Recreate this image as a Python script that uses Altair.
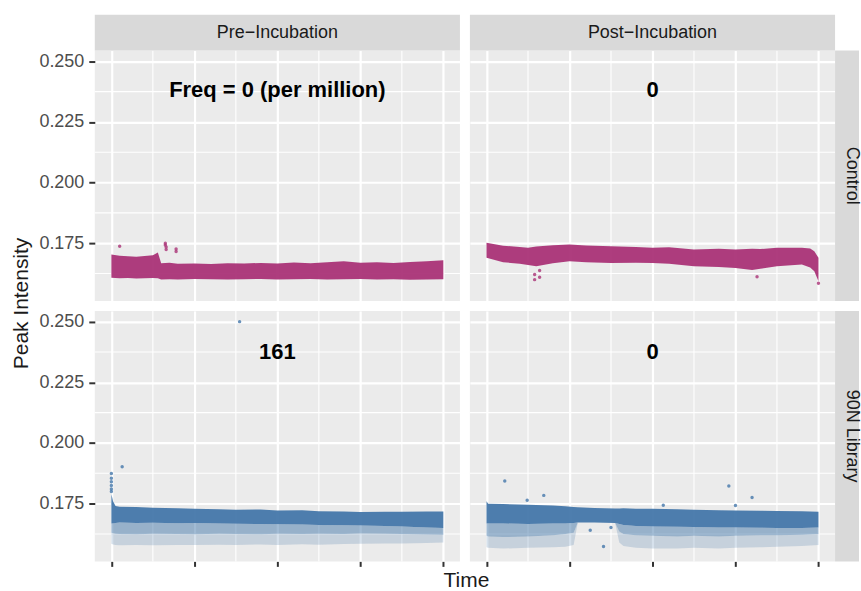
import altair as alt
import pandas as pd

FONT = "Liberation Sans"
MAGENTA = "#AA3377"
BLUE = "#4477AA"
GRID = "#FFFFFF"
PANEL_BG = "#EBEBEB"
STRIP_BG = "#D9D9D9"

ROW_LABELS = ["Control", "90N Library"]
COL_LABELS = ["Pre\u2212Incubation", "Post\u2212Incubation"]
ANNOT = [["Freq = 0 (per million)", "0"], ["161", "0"]]
ANNOT_T = [2.0, 2.0]
ANNOT_Y = [0.2380, 0.2375]

X_MAJOR = [0, 1, 2, 3, 4]
X_MINOR = [0.5, 1.5, 2.5, 3.5]
Y_MAJOR = [0.175, 0.200, 0.225, 0.250]
Y_MINOR = [0.1625, 0.1875, 0.2125, 0.2375]
X_DOMAIN = [-0.2, 4.2]
Y_DOMAIN = [0.1512, 0.2544]

# ---- Control, Pre-Incubation (dense band envelope + stray points)
CP_T = [0.0, 0.1, 0.2, 0.3, 0.4, 0.5, 0.56, 0.6, 0.7, 0.8, 1.0, 1.2, 1.4, 1.6, 1.8, 2.0,
        2.2, 2.4, 2.6, 2.8, 3.0, 3.2, 3.4, 3.6, 3.8, 4.0]
CP_HI = [0.1704, 0.1698, 0.1696, 0.1694, 0.1697, 0.1700, 0.1712, 0.1668, 0.1670, 0.1665,
         0.1667, 0.1664, 0.1668, 0.1666, 0.1669, 0.1667, 0.1671, 0.1668, 0.1672, 0.1676,
         0.1670, 0.1672, 0.1669, 0.1673, 0.1676, 0.1680]
CP_LO = [0.1608, 0.1606, 0.1607, 0.1605, 0.1606, 0.1607, 0.1606, 0.1601, 0.1602, 0.1601,
         0.1603, 0.1602, 0.1601, 0.1602, 0.1603, 0.1601, 0.1602, 0.1603, 0.1601, 0.1602,
         0.1603, 0.1601, 0.1602, 0.1600, 0.1601, 0.1602]
CP_OUT_T = [0.10, 0.65, 0.65, 0.66, 0.66, 0.78, 0.78]
CP_OUT_Y = [0.1738, 0.1750, 0.1743, 0.1735, 0.1724, 0.1726, 0.1716]

# ---- Control, Post-Incubation
PP_T = [0.0, 0.2, 0.4, 0.5, 0.6, 0.8, 1.0, 1.2, 1.5, 1.8, 2.0, 2.2, 2.5, 2.8, 3.0, 3.2,
        3.3, 3.5, 3.8, 3.9, 3.95, 4.0]
PP_HI = [0.1752, 0.1740, 0.1735, 0.1731, 0.1737, 0.1742, 0.1745, 0.1741, 0.1738, 0.1735,
         0.1731, 0.1733, 0.1724, 0.1727, 0.1724, 0.1727, 0.1726, 0.1731, 0.1731, 0.1728,
         0.1717, 0.1690]
PP_LO = [0.1690, 0.1672, 0.1665, 0.1660, 0.1655, 0.1668, 0.1676, 0.1672, 0.1669, 0.1670,
         0.1669, 0.1665, 0.1655, 0.1652, 0.1648, 0.1640, 0.1645, 0.1655, 0.1662, 0.1650,
         0.1635, 0.1593]
PP_OUT_T = [0.58, 0.64, 0.58, 0.64, 3.26, 4.0]
PP_OUT_Y = [0.1621, 0.1638, 0.1600, 0.1610, 0.1612, 0.1585]

# ---- 90N Library, Pre-Incubation (dense band, scattered zone, sparse floor)
NP_T = [0.0, 0.02, 0.05, 0.1, 0.3, 0.5, 0.8, 1.0, 1.3, 1.5, 1.8, 2.0, 2.3, 2.5, 2.8, 3.0,
        3.3, 3.5, 3.8, 4.0]
NP_HI = [0.1790, 0.1760, 0.1740, 0.1737, 0.1736, 0.1733, 0.1731, 0.1729, 0.1727, 0.1725,
         0.1726, 0.1722, 0.1723, 0.1719, 0.1718, 0.1716, 0.1717, 0.1717, 0.1718, 0.1718]
NP_LO = [0.1668, 0.1668, 0.1670, 0.1672, 0.1670, 0.1671, 0.1669, 0.1670, 0.1668, 0.1667,
         0.1666, 0.1665, 0.1664, 0.1662, 0.1661, 0.1660, 0.1658, 0.1656, 0.1652, 0.1650]
NP_MID = [0.1630, 0.1628, 0.1626, 0.1625, 0.1624, 0.1626, 0.1625, 0.1624, 0.1626, 0.1625,
          0.1624, 0.1626, 0.1625, 0.1626, 0.1625, 0.1627, 0.1626, 0.1625, 0.1623, 0.1622]
NP_BOT = [0.1585, 0.1582, 0.1580, 0.1578, 0.1580, 0.1578, 0.1580, 0.1579, 0.1581, 0.1580,
          0.1582, 0.1580, 0.1583, 0.1581, 0.1584, 0.1585, 0.1586, 0.1586, 0.1588, 0.1590]
NP_OUT_T = [0.0, 0.0, 0.0, 0.0, 0.0, 0.0, 0.13, 1.545]
NP_OUT_Y = [0.1874, 0.1855, 0.1840, 0.1825, 0.1810, 0.1800, 0.1902, 0.2500]

# ---- 90N Library, Post-Incubation
BP_T = [0.0, 0.02, 0.2, 0.5, 0.8, 0.95, 1.05, 1.1, 1.3, 1.55, 1.6, 1.65, 1.8, 2.0, 2.3,
        2.5, 2.8, 3.0, 3.3, 3.5, 3.8, 4.0]
BP_HI = [0.1760, 0.1750, 0.1748, 0.1745, 0.1742, 0.1739, 0.1736, 0.1735, 0.1732, 0.1730,
         0.1730, 0.1731, 0.1729, 0.1729, 0.1727, 0.1725, 0.1723, 0.1722, 0.1721, 0.1720,
         0.1719, 0.1717]
BP_LO = [0.1668, 0.1668, 0.1668, 0.1666, 0.1668, 0.1668, 0.1670, 0.1672, 0.1672, 0.1670,
         0.1666, 0.1662, 0.1658, 0.1656, 0.1655, 0.1654, 0.1652, 0.1652, 0.1651, 0.1650,
         0.1650, 0.1652]
BP_MID = [0.1618, 0.1615, 0.1612, 0.1615, 0.1620, 0.1625, 0.1630, 0.1672, 0.1672, 0.1670,
          0.1635, 0.1625, 0.1620, 0.1618, 0.1615, 0.1618, 0.1615, 0.1618, 0.1620, 0.1620,
          0.1622, 0.1625]
BP_BOT = [0.1570, 0.1568, 0.1565, 0.1568, 0.1570, 0.1572, 0.1580, 0.1672, 0.1672, 0.1670,
          0.1590, 0.1575, 0.1568, 0.1565, 0.1565, 0.1568, 0.1565, 0.1568, 0.1570, 0.1572,
          0.1575, 0.1580]
BP_OUT_T = [0.22, 0.49, 0.69, 2.13, 2.92, 3.0, 3.2, 1.41, 1.25, 1.5]
BP_OUT_Y = [0.1843, 0.1764, 0.1784, 0.1743, 0.1823, 0.1742, 0.1775, 0.1573, 0.1640, 0.1652]

W, H = 366, 251


def panel(r, c, t, hi, lo, mid, bot, out_t, out_y, color):
    xs = alt.Scale(domain=X_DOMAIN, nice=False, zero=False)
    ys = alt.Scale(domain=Y_DOMAIN, nice=False, zero=False)
    left = c == 0
    bottom = r == 1

    xaxis_kw = dict(values=X_MAJOR, grid=True, gridColor=GRID, gridWidth=2.2,
                    labels=False, domain=False, ticks=bottom, title="")
    if bottom:
        xaxis_kw.update(tickSize=5, tickWidth=2, tickColor="#333333")
    if bottom and left:
        xaxis_kw.update(title="Time", titleFont=FONT, titleFontSize=21,
                        titleFontWeight="normal", titleColor="#1A1A1A",
                        titleX=372, titleY=25, titleAlign="center",
                        titleBaseline="alphabetic")
    yaxis_kw = dict(values=Y_MAJOR, grid=True, gridColor=GRID, gridWidth=2.2,
                    labels=left, ticks=left, domain=False, title="")
    if left:
        yaxis_kw.update(format=".3f", labelFont=FONT, labelFontSize=18,
                        labelColor="#4D4D4D", labelPadding=5, tickSize=6,
                        tickWidth=2, tickColor="#333333")
    if left and r == 0:
        yaxis_kw.update(title="Peak Intensity", titleFont=FONT, titleFontSize=21,
                        titleFontWeight="normal", titleColor="#1A1A1A",
                        titleX=-67, titleY=253, titleAngle=270,
                        titleAlign="center", titleBaseline="alphabetic")

    def X(field):
        return alt.X(field, type="quantitative", scale=xs, axis=alt.Axis(**xaxis_kw))

    def Y(field):
        return alt.Y(field, type="quantitative", scale=ys, axis=alt.Axis(**yaxis_kw))

    df = pd.DataFrame({"t": t, "hi": hi, "lo": lo})
    layers = []
    # minor grid lines
    layers.append(alt.Chart(pd.DataFrame({"v": X_MINOR})).mark_rule(
        color=GRID, strokeWidth=1.1).encode(x=X("v")))
    layers.append(alt.Chart(pd.DataFrame({"v": Y_MINOR})).mark_rule(
        color=GRID, strokeWidth=1.1).encode(y=Y("v")))

    if bot is not None:
        dfs = pd.DataFrame({"t": t, "lo": lo, "mid": mid, "bot": bot})
        layers.append(alt.Chart(dfs).mark_area(color=color, opacity=0.22).encode(
            x=X("t"), y=Y("mid"), y2="bot:Q"))
        layers.append(alt.Chart(dfs).mark_area(color=color, opacity=0.5).encode(
            x=X("t"), y=Y("lo"), y2="mid:Q"))

    layers.append(alt.Chart(df).mark_area(color=color, opacity=0.95).encode(
        x=X("t"), y=Y("hi"), y2="lo:Q"))

    dfo = pd.DataFrame({"t": out_t, "y": out_y})
    layers.append(alt.Chart(dfo).mark_circle(color=color, size=12, opacity=0.8).encode(
        x=X("t"), y=Y("y")))

    dft = pd.DataFrame({"t": [ANNOT_T[c]], "y": [ANNOT_Y[r]], "label": [ANNOT[r][c]]})
    layers.append(alt.Chart(dft).mark_text(
        font=FONT, fontSize=22, fontWeight="bold", color="#000000",
        baseline="middle", align="center").encode(
        x=X("t"), y=Y("y"), text="label:N"))

    if r == 0:
        dfc = pd.DataFrame({"label": [COL_LABELS[c]]})
        layers.append(alt.Chart(dfc).mark_rect(color=STRIP_BG).encode(
            x=alt.value(0), x2=alt.value(W), y=alt.value(-36), y2=alt.value(0)))
        layers.append(alt.Chart(dfc).mark_text(
            font=FONT, fontSize=18, color="#1A1A1A", baseline="middle",
            align="center").encode(x=alt.value(W / 2), y=alt.value(-18), text="label:N"))
    if c == 1:
        dfr = pd.DataFrame({"label": [ROW_LABELS[r]]})
        layers.append(alt.Chart(dfr).mark_rect(color=STRIP_BG).encode(
            x=alt.value(W), x2=alt.value(W + 24), y=alt.value(0), y2=alt.value(H)))
        layers.append(alt.Chart(dfr).mark_text(
            font=FONT, fontSize=18, color="#1A1A1A", baseline="middle",
            align="center", angle=90).encode(x=alt.value(W + 17), y=alt.value(H / 2),
                                             text="label:N"))

    return alt.layer(*layers).properties(width=W, height=H)


tl = panel(0, 0, CP_T, CP_HI, CP_LO, None, None, CP_OUT_T, CP_OUT_Y, MAGENTA)
tr = panel(0, 1, PP_T, PP_HI, PP_LO, None, None, PP_OUT_T, PP_OUT_Y, MAGENTA)
bl = panel(1, 0, NP_T, NP_HI, NP_LO, NP_MID, NP_BOT, NP_OUT_T, NP_OUT_Y, BLUE)
br = panel(1, 1, BP_T, BP_HI, BP_LO, BP_MID, BP_BOT, BP_OUT_T, BP_OUT_Y, BLUE)

chart = alt.concat(tl, tr, bl, br, columns=2, spacing=10, bounds="flush").properties(
    padding={"left": 11, "top": 14, "right": 0, "bottom": 0},
    background="#FFFFFF",
).configure_view(fill=PANEL_BG, strokeWidth=0)

chart.save("out.html", embed_options={"renderer": "svg", "actions": False})
